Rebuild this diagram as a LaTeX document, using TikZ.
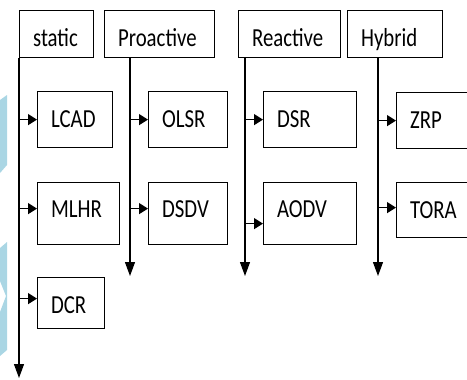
\documentclass[tikz,border=0pt]{standalone}
\usepackage{fontspec}
\setmainfont{Carlito}[FakeStretch=0.80]
\usetikzlibrary{arrows.meta}
\definecolor{deco}{RGB}{170,214,228}
\tikzset{
  box/.style={draw, line width=1.2pt, anchor=north west, align=left,
    inner xsep=13.5pt, inner ysep=0pt, text depth=5pt,
    font=\fontsize{26}{30}\selectfont},
  harrow/.style={line width=1.2pt, -{Triangle[length=9pt,width=11pt]}},
  varrow/.style={line width=1.2pt, -{Triangle[length=14pt,width=10pt]}}
}
\begin{document}
\begin{tikzpicture}[x=1pt,y=-1pt]
\useasboundingbox (0,0) rectangle (467,380);
\clip (0,0) rectangle (467,380);
% background shapes at the left edge
\fill[deco] (0,100) -- (7,95) -- (7,165) -- (0,173) -- cycle;
\fill[deco] (0,248) -- (7,242) -- (7,350) -- (0,356) -- (0,312) -- (6,296) -- (0,281) -- cycle;

% headers
\node[box, text width=47, minimum height=47, text height=30] (stat) at (19,10) {static};
\node[box, text width=83, minimum height=47, text height=30] (pro) at (104,10) {Proactive};
\node[box, text width=75, minimum height=47, text height=30] (rea) at (238,10) {Reactive};
\node[box, text width=68, minimum height=47, text height=30] (hyb) at (347,10) {Hybrid};

% first row
\node[box, text width=48, minimum height=56, text height=21] (lcad) at (37,91) {LCAD};
\node[box, text width=52, minimum height=56, text height=21] (olsr) at (148,91) {OLSR};
\node[box, text width=66, minimum height=56, text height=21] (dsr) at (263,91) {DSR};
\node[box, text width=66, minimum height=56, text height=21] (zrp) at (396,92) {ZRP};

% second row
\node[box, text width=55, minimum height=62, text height=13] (mlhr) at (37,182) {MLHR};
\node[box, text width=52, minimum height=62, text height=13] (dsdv) at (148,182) {DSDV};
\node[box, text width=66, minimum height=62, text height=13] (aodv) at (263,182) {AODV};
\node[box, text width=66, minimum height=55, text height=22] (tora) at (396,182) {TORA};

% third row
\node[box, text width=40, minimum height=51, text height=26] (dcr) at (37,277) {DCR};

% trunks
\coordinate (pro-top) at ([xshift=26]pro.south west);
\coordinate (rea-top) at ([xshift=7]rea.south west);
\coordinate (hyb-top) at ([xshift=31]hyb.south west);
\coordinate (stat-end) at (19,378);
\coordinate (pro-end) at (130,276);
\coordinate (rea-end) at (245,276);
\coordinate (hyb-end) at (378,276);
\draw[varrow] (stat.south west) -- (stat-end);
\draw[varrow] (pro-top) -- (pro-end);
\draw[varrow] (rea-top) -- (rea-end);
\draw[varrow] (hyb-top) -- (hyb-end);

% branches
\draw[harrow] (lcad.west -| stat.south west) -- (lcad.west);
\draw[harrow] ([yshift=5]mlhr.west -| stat.south west) -- ([yshift=5]mlhr.west);
\draw[harrow] ([yshift=4.5]dcr.west -| stat.south west) -- ([yshift=4.5]dcr.west);
\draw[harrow] (olsr.west -| pro-top) -- (olsr.west);
\draw[harrow] ([yshift=5]dsdv.west -| pro-top) -- ([yshift=5]dsdv.west);
\draw[harrow] (dsr.west -| rea-top) -- (dsr.west);
\draw[harrow] ([yshift=-10]aodv.west -| rea-top) -- ([yshift=-10]aodv.west);
\draw[harrow] (zrp.west -| hyb-top) -- (zrp.west);
\draw[harrow] ([yshift=2.5]tora.west -| hyb-top) -- ([yshift=2.5]tora.west);
\end{tikzpicture}
\end{document}
